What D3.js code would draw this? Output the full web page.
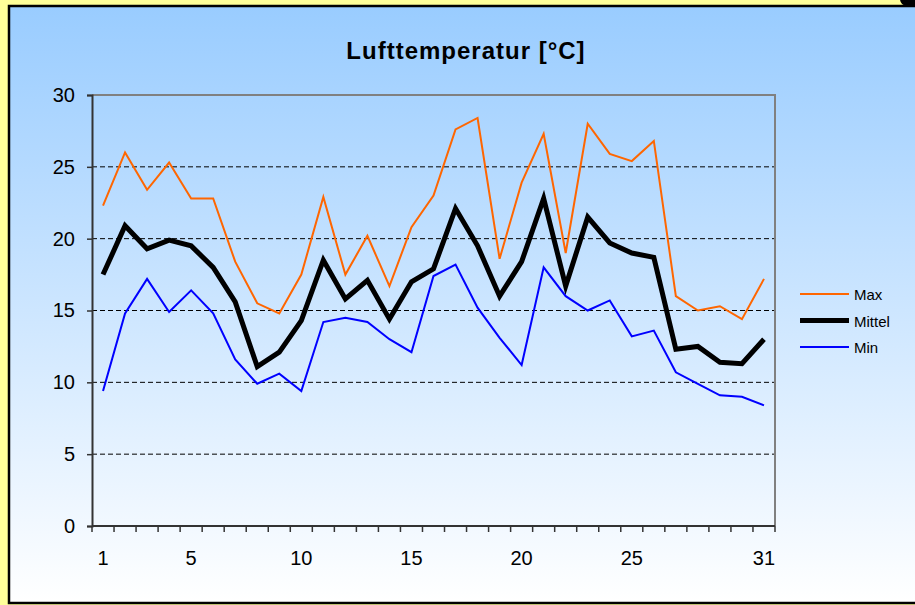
<!DOCTYPE html>
<html>
<head>
<meta charset="utf-8">
<script src="https://cdn.jsdelivr.net/npm/d3@7"></script>
<style>
  body { margin: 0; background: #ffff99; }
  svg { display: block; font-family: "Liberation Sans", Arial, sans-serif; }
</style>
</head>
<body>
<div id="chart"></div>
<script>
var svgWidth = 915;
var svgHeight = 605;

// data
var days = d3.range(1, 32);
var dayLabels = [1, 5, 10, 15, 20, 25, 31];
var yTicks = [0, 5, 10, 15, 20, 25, 30];
var maxTemp = [22.3, 26.0, 23.4, 25.3, 22.8, 22.8, 18.4, 15.5, 14.8, 17.5,
               22.9, 17.5, 20.2, 16.7, 20.8, 23.0, 27.6, 28.4, 18.6, 23.9,
               27.3, 19.0, 28.0, 25.9, 25.4, 26.8, 16.0, 15.0, 15.3, 14.4, 17.2];
var meanTemp = [17.5, 20.9, 19.3, 19.9, 19.5, 18.0, 15.6, 11.1, 12.1, 14.3,
                18.5, 15.8, 17.1, 14.4, 17.0, 17.9, 22.1, 19.5, 16.0, 18.4,
                22.8, 16.7, 21.5, 19.7, 19.0, 18.7, 12.3, 12.5, 11.4, 11.3, 13.0];
var minTemp = [9.4, 14.8, 17.2, 14.9, 16.4, 14.8, 11.6, 9.9, 10.6, 9.4,
               14.2, 14.5, 14.2, 13.0, 12.1, 17.4, 18.2, 15.2, 13.1, 11.2,
               18.0, 16.0, 15.0, 15.7, 13.2, 13.6, 10.7, 9.9, 9.1, 9.0, 8.4];

var series = [
  { name: "Max", values: maxTemp, color: "#ff6600", width: 2 },
  { name: "Mittel", values: meanTemp, color: "#000000", width: 5 },
  { name: "Min", values: minTemp, color: "#0000ff", width: 2 }
];

var plot = { left: 92, top: 95, right: 775, bottom: 526 };

var svg = d3.select("#chart")
    .append("svg")
    .attr("width", svgWidth)
    .attr("height", svgHeight);

var grad = svg.append("defs").append("linearGradient")
    .attr("id", "bg")
    .attr("x1", 0).attr("y1", 0).attr("x2", 0).attr("y2", 1);
grad.append("stop").attr("offset", "0%").attr("stop-color", "#99ccff");
grad.append("stop").attr("offset", "100%").attr("stop-color", "#ffffff");

// panel with black frame
svg.append("rect")
    .attr("x", 9).attr("y", 6)
    .attr("width", 920).attr("height", 597)
    .attr("fill", "url(#bg)")
    .attr("stroke", "#000")
    .attr("stroke-width", 2.5);

svg.append("rect")
    .attr("x", 900).attr("y", -8)
    .attr("width", 30).attr("height", 14)
    .attr("rx", 7)
    .attr("fill", "#000");

var xScale = d3.scaleBand()
    .domain(days)
    .range([plot.left, plot.right]);

var yScale = d3.scaleLinear()
    .domain([0, 30])
    .range([plot.bottom, plot.top]);

// dashed gridlines
svg.append("g")
  .selectAll("line")
  .data(yTicks.filter(d => d > 0 && d < 30))
  .join("line")
    .attr("x1", plot.left)
    .attr("x2", plot.right)
    .attr("y1", d => yScale(d))
    .attr("y2", d => yScale(d))
    .attr("stroke", "#000")
    .attr("stroke-width", 1)
    .attr("stroke-dasharray", "5,3");

// top and right border of plot area
svg.append("path")
    .attr("d", `M${plot.left},${plot.top}H${plot.right}V${plot.bottom}`)
    .attr("fill", "none")
    .attr("stroke", "#808080")
    .attr("stroke-width", 2);

// y axis
var yAxis = d3.axisLeft(yScale)
    .tickValues(yTicks)
    .tickSize(5)
    .tickPadding(12);

var yG = svg.append("g")
    .attr("transform", `translate(${plot.left},0)`)
    .call(yAxis);
yG.select(".domain").attr("stroke", "#333").attr("stroke-width", 2);
yG.selectAll(".tick line").attr("stroke", "#333").attr("stroke-width", 1.5);
yG.selectAll("text").attr("font-size", 20).attr("fill", "#000")
    .attr("font-family", "Liberation Sans, Arial, sans-serif");

// x axis: tick marks at category boundaries
var xTickScale = d3.scaleLinear()
    .domain([0, 31])
    .range([plot.left, plot.right]);

var xG = svg.append("g")
    .attr("transform", `translate(0,${plot.bottom})`);
xG.append("line")
    .attr("x1", plot.left).attr("x2", plot.right)
    .attr("stroke", "#333").attr("stroke-width", 2);
xG.selectAll(".tk")
  .data(d3.range(0, 32))
  .join("line")
    .attr("class", "tk")
    .attr("x1", d => xTickScale(d))
    .attr("x2", d => xTickScale(d))
    .attr("y1", 0).attr("y2", 6)
    .attr("stroke", "#333").attr("stroke-width", 1.5);
xG.selectAll("text")
  .data(dayLabels)
  .join("text")
    .attr("x", d => xScale(d) + xScale.bandwidth() / 2)
    .attr("y", 39)
    .attr("text-anchor", "middle")
    .attr("font-size", 20)
    .text(d => d);

// lines
var line = d3.line()
    .x((d, i) => xScale(days[i]) + xScale.bandwidth() / 2)
    .y(d => yScale(d));

svg.append("g")
  .selectAll("path")
  .data(series)
  .join("path")
    .attr("d", d => line(d.values))
    .attr("fill", "none")
    .attr("stroke", d => d.color)
    .attr("stroke-width", d => d.width)
    .attr("stroke-linejoin", "miter");

// title
svg.append("text")
    .attr("x", 466)
    .attr("y", 59)
    .attr("text-anchor", "middle")
    .attr("font-size", 24)
    .attr("font-weight", "bold")
    .attr("letter-spacing", 1)
    .text("Lufttemperatur [°C]");

// legend
var legend = svg.append("g")
  .selectAll("g")
  .data(series)
  .join("g")
    .attr("transform", (d, i) => `translate(800,${294 + i * 26.5})`);
legend.append("line")
    .attr("x1", 0).attr("x2", 49)
    .attr("stroke", d => d.color)
    .attr("stroke-width", d => d.width);
legend.append("text")
    .attr("x", 54)
    .attr("y", 6)
    .attr("font-size", 15)
    .text(d => d.name);
</script>
</body>
</html>
